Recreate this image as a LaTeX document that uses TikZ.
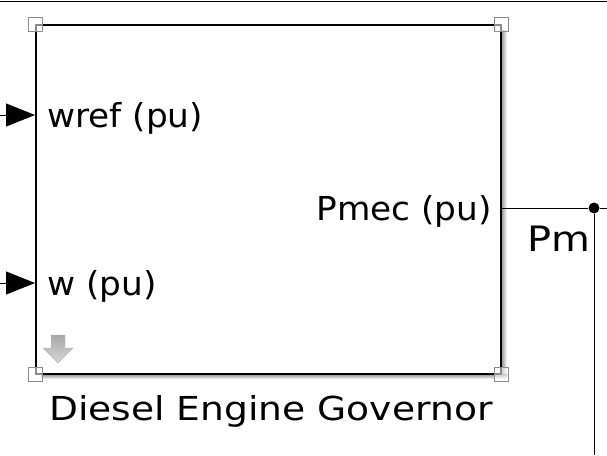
\documentclass[tikz,border=0pt]{standalone}
\usepackage{fontspec}
\setmainfont{DejaVu Sans}
\newfontfamily\portfont{DejaVu Sans}[FakeStretch=1.04]
\newfontfamily\namefont{DejaVu Sans}[FakeStretch=1.14]
\usetikzlibrary{arrows.meta, calc}
\usepackage{xcolor}
\definecolor{handleGray}{HTML}{8C8C8C}
\definecolor{iconLight}{HTML}{D6D6D6}
\definecolor{iconDark}{HTML}{A8A8A8}
\tikzset{
    PortText/.style={font=\portfont\fontsize{33}{39}\selectfont, inner sep=0pt},
    NameText/.style={font=\namefont\fontsize{33}{39}\selectfont, inner sep=0pt},
    SignalText/.style={font=\namefont\fontsize{35}{41}\selectfont, inner sep=0pt},
    BlockBox/.style={draw, line width=1.6pt, inner sep=0pt, minimum width=465pt, minimum height=349pt},
    HandleBox/.style={draw=handleGray, fill=white, fill opacity=0.55, line width=0.8pt},
    InPort/.style={-{Triangle[length=29pt, width=23pt]}, line width=1pt},
    SignalLine/.style={line width=1pt}
}

\begin{document}
\begin{tikzpicture}[x=1pt, y=-1pt]
    \useasboundingbox (0,0) rectangle (607,455);

    % top line
    \draw[SignalLine] (0,1) -- (607,1);

    % shadow of the block
    \shade[left color=black!45, right color=white] (501,30) rectangle (507,379);
    \shade[top color=black!45, bottom color=white] (41,374) rectangle (507,379);

    % block
    \node[BlockBox, fill=white, anchor=north west] (gov) at (35,24) {};

    % selection handles
    \foreach \c in {north west, north east, south west, south east} {
        \draw[HandleBox] ($(gov.\c)+(-7,-7)$) rectangle ($(gov.\c)+(7,7)$);
    }

    % port labels
    \node[PortText, anchor=base west] (wref) at (47,127) {wref (pu)};
    \node[PortText, anchor=base west] (w) at (47,295) {w (pu)};
    \node[PortText, anchor=base east] (pmec) at (492,220) {Pmec (pu)};
    \node[NameText, anchor=base west] (title) at (49,420) {Diesel Engine Governor};

    % inputs
    \coordinate (in1) at (0,115);
    \coordinate (in2) at (0,283);
    \draw[InPort] (in1) -- (in1 -| gov.west);
    \draw[InPort] (in2) -- (in2 -| gov.west);

    % output signal Pm
    \coordinate (out) at (gov.east |- 0,208);
    \node[circle, fill, inner sep=0pt, minimum size=11pt] (dot) at (594,208) {};
    \coordinate (outEnd) at (607,208);
    \coordinate (downEnd) at (594,455);
    \draw[SignalLine] (out) -- (dot) -- (outEnd);
    \draw[SignalLine] (dot) -- (downEnd);
    \node[SignalText, anchor=base west] (pm) at (527,251) {Pm};

    % down arrow icon
    \shade[top color=iconDark, bottom color=iconLight, draw=iconDark!80, line width=0.4pt]
        (51,335) -- (65,335) -- (65,348) -- (73,348) -- (58,363) -- (43,348) -- (51,348) -- cycle;
\end{tikzpicture}
\end{document}
